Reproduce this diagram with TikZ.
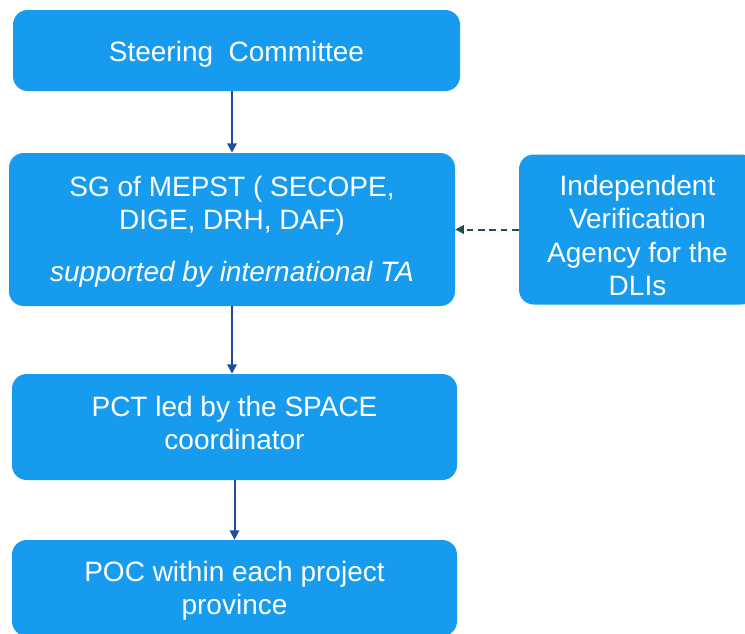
\documentclass[tikz,border=0pt]{standalone}
\usepackage{fontspec}
\setmainfont{Liberation Sans}
\usetikzlibrary{arrows.meta}
\definecolor{boxblue}{HTML}{169BEF}
\definecolor{arrowblue}{HTML}{1F4E9F}
\definecolor{dashteal}{HTML}{1E4E57}
\begin{document}
\begin{tikzpicture}[x=0.75pt,y=-0.75pt,
  box/.style={draw=none, fill=boxblue, rounded corners=11pt, inner sep=0pt},
  lbl/.style={text=white, align=center, inner sep=0pt, font=\fontsize{21}{25}\selectfont},
  flow/.style={draw=arrowblue, line width=1.5pt, -{Triangle[length=7pt,width=7pt]}},
  verify/.style={draw=dashteal, line width=1.5pt, dash pattern=on 5pt off 3.5pt,
    -{Triangle[length=6.5pt,width=6.5pt]}}]
\useasboundingbox (0,0) rectangle (745,633);
\clip (0,0) rectangle (745,633);
\node[box, minimum width=447*0.75pt, minimum height=81*0.75pt] (st) at (236.5,50.5) {};
\node[box, minimum width=446*0.75pt, minimum height=153*0.75pt] (sg) at (232,229.5) {};
\node[box, minimum width=237*0.75pt, minimum height=150*0.75pt] (iva) at (637.5,229.5) {};
\node[box, minimum width=445*0.75pt, minimum height=106*0.75pt] (pct) at (234.5,427) {};
\node[box, minimum width=445*0.75pt, minimum height=96*0.75pt] (poc) at (234.5,588) {};
\node[lbl] (stT) at (236.5,54) {Steering\ \ Committee};
\node[lbl] (sgT) at (232,231.5)
  {SG of MEPST ( SECOPE,\\ DIGE, DRH, DAF)\\[13.5pt] \itshape supported by international TA};
\node[lbl] (ivaT) at (637.5,235.5) {Independent\\ Verification\\ Agency for the\\ DLIs};
\node[lbl] (pctT) at (234.5,423) {PCT led by the SPACE\\ coordinator};
\node[lbl] (pocT) at (234.5,591) {POC within each project\\ province};
\draw[flow] (st.south -| sg.north) -- (sg.north);
\draw[flow] (sg.south) -- (sg.south |- pct.north);
\draw[flow] (pct.south) -- (poc.north);
\draw[verify] (iva.west) -- (sg.east);
\end{tikzpicture}
\end{document}
